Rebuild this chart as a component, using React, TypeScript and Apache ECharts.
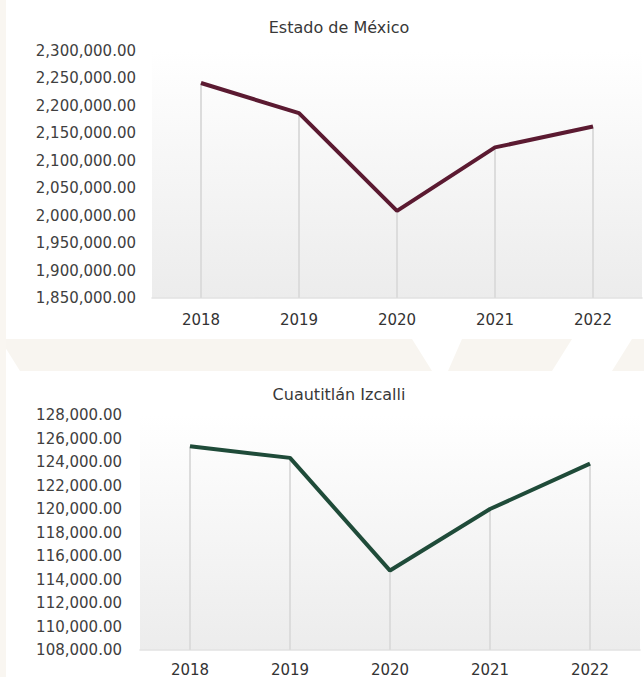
import React, { useEffect, useRef } from "react";
import * as echarts from "echarts";

const years = ["2018", "2019", "2020", "2021", "2022"];
const estadoValues = [2241700, 2186750, 2008650, 2124400, 2162350];
const izcalliValues = [125340, 124350, 114760, 120000, 123860];
const titles = ["Estado de México", "Cuautitlán Izcalli"];

const FONT = "DejaVu Sans";
const fmt = (v: number) =>
  v.toLocaleString("en-US", { minimumFractionDigits: 2, maximumFractionDigits: 2 });

const plotBg = new echarts.graphic.LinearGradient(0, 0, 0, 1, [
  { offset: 0, color: "#ffffff" },
  { offset: 1, color: "#ececec" },
]);

export default function App() {
  const ref = useRef<HTMLDivElement>(null);
  useEffect(() => {
    if (!ref.current) return;
    const chart = echarts.init(ref.current, undefined, { renderer: "svg" });
    const yAxisBase = {
      type: "value" as const,
      splitLine: { show: false },
      axisLine: { show: false },
      axisTick: { show: false },
      axisLabel: {
        fontFamily: FONT,
        fontSize: 15,
        color: "#404040",
        formatter: (v: number) => fmt(v),
      },
    };
    const xAxisBase = {
      type: "category" as const,
      data: years,
      boundaryGap: true,
      axisLine: { show: true, lineStyle: { color: "#e2e2e2", width: 1.5 } },
      axisTick: { show: false },
      splitLine: { show: false },
      axisLabel: { fontFamily: FONT, fontSize: 15, color: "#333333" },
    };
    const titleStyle = {
      fontFamily: FONT,
      fontSize: 16,
      fontWeight: "normal" as const,
      color: "#383838",
    };
    chart.setOption({
      animation: false,
      backgroundColor: "#ffffff",
      graphic: [
        {
          type: "polygon",
          shape: { points: [[0, 339], [412, 339], [432, 371], [20, 371]] },
          style: { fill: "#f8f5f0" },
          z: -10,
        },
        {
          type: "polygon",
          shape: { points: [[462, 339], [572, 339], [552, 371], [448, 371]] },
          style: { fill: "#f8f5f0" },
          z: -10,
        },
        {
          type: "polygon",
          shape: { points: [[632, 339], [644, 339], [644, 371], [612, 371]] },
          style: { fill: "#f8f5f0" },
          z: -10,
        },
        {
          type: "rect",
          shape: { x: 0, y: 0, width: 6, height: 677 },
          style: { fill: "#f9f6f1" },
          z: -10,
        },
      ],
      title: [
        { text: titles[0], left: 334, top: 14, textAlign: "center", textStyle: titleStyle },
        { text: titles[1], left: 334, top: 381, textAlign: "center", textStyle: titleStyle },
      ],
      grid: [
        {
          left: 152,
          width: 490,
          top: 51,
          height: 247,
          show: true,
          backgroundColor: plotBg,
          borderWidth: 0,
        },
        {
          left: 140,
          width: 500,
          top: 415,
          height: 235,
          show: true,
          backgroundColor: plotBg,
          borderWidth: 0,
        },
      ],
      xAxis: [
        { ...xAxisBase, gridIndex: 0, axisLabel: { ...xAxisBase.axisLabel, margin: 14 } },
        { ...xAxisBase, gridIndex: 1, axisLabel: { ...xAxisBase.axisLabel, margin: 12 } },
      ],
      yAxis: [
        {
          ...yAxisBase,
          gridIndex: 0,
          min: 1850000,
          max: 2300000,
          interval: 50000,
          axisLabel: { ...yAxisBase.axisLabel, margin: 16 },
        },
        {
          ...yAxisBase,
          gridIndex: 1,
          min: 108000,
          max: 128000,
          interval: 2000,
          axisLabel: { ...yAxisBase.axisLabel, margin: 18 },
        },
      ],
      series: [
        {
          type: "bar",
          xAxisIndex: 0,
          yAxisIndex: 0,
          data: estadoValues,
          barWidth: 2,
          itemStyle: { color: "#dcdcdc" },
          silent: true,
          z: 1,
        },
        {
          type: "line",
          xAxisIndex: 0,
          yAxisIndex: 0,
          data: estadoValues,
          showSymbol: false,
          symbol: "none",
          lineStyle: { color: "#5b1a31", width: 4 },
          z: 3,
        },
        {
          type: "bar",
          xAxisIndex: 1,
          yAxisIndex: 1,
          data: izcalliValues,
          barWidth: 2,
          itemStyle: { color: "#dcdcdc" },
          silent: true,
          z: 1,
        },
        {
          type: "line",
          xAxisIndex: 1,
          yAxisIndex: 1,
          data: izcalliValues,
          showSymbol: false,
          symbol: "none",
          lineStyle: { color: "#1f4b39", width: 4 },
          z: 3,
        },
      ],
    });
    return () => chart.dispose();
  }, []);
  return (
    <div
      ref={ref}
      style={{ position: "fixed", left: 0, top: 0, width: 644, height: 677 }}
    />
  );
}
